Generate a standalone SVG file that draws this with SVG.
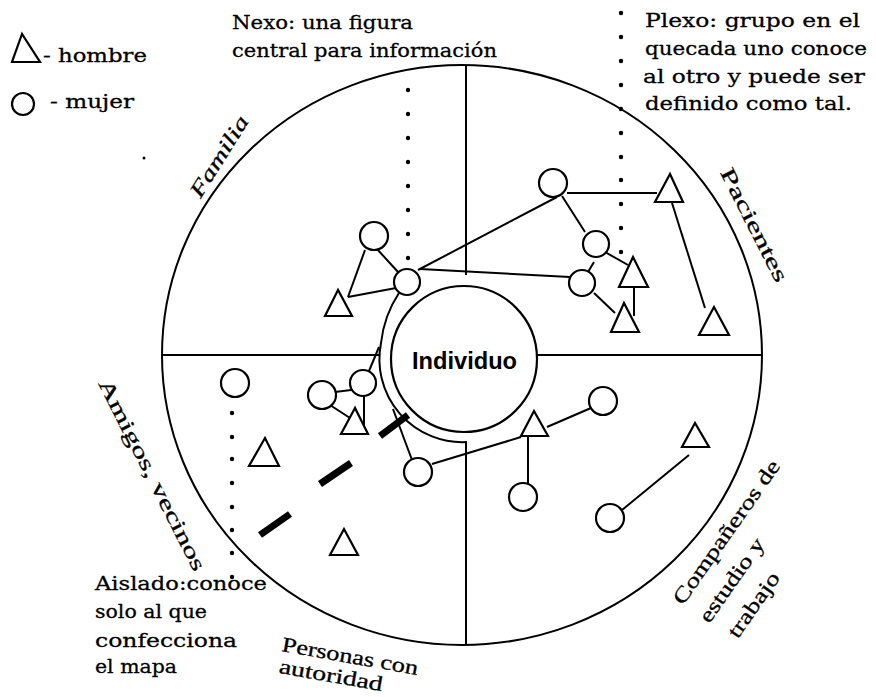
<svg xmlns="http://www.w3.org/2000/svg" width="876" height="697" viewBox="0 0 876 697">
<style>
.t{font-family:"DejaVu Serif","Liberation Serif",serif;font-size:19px;fill:#000;stroke:#000;stroke-width:0.3}
.r{font-family:"Liberation Serif","DejaVu Serif",serif;font-size:21px;fill:#000;stroke:#000;stroke-width:0.3}
.n{fill:#fff;stroke:#000;stroke-width:2.2}
.e{fill:none;stroke:#000;stroke-width:2}
.d{fill:#000}
.dash{stroke:#000;stroke-width:7;stroke-linecap:butt}
</style>
<rect width="876" height="697" fill="#fff"/>

<g id="frame">
<ellipse cx="462" cy="355" rx="300" ry="290" class="e"/>
<line x1="162" y1="355" x2="379" y2="355" class="e"/>
<line x1="537" y1="355" x2="762" y2="355" class="e"/>
<line x1="466" y1="65" x2="466" y2="275" class="e"/>
<line x1="466" y1="442" x2="466" y2="645" class="e"/>
</g>

<g id="dots">
<g class="d">
<circle cx="408" cy="90" r="2.2"/><circle cx="408" cy="114" r="2.2"/><circle cx="408" cy="138" r="2.2"/><circle cx="408" cy="162" r="2.2"/><circle cx="408" cy="186" r="2.2"/><circle cx="408" cy="210" r="2.2"/><circle cx="408" cy="234" r="2.2"/><circle cx="408" cy="258" r="2.2"/>
<circle cx="621" cy="13" r="2.2"/><circle cx="621" cy="37" r="2.2"/><circle cx="621" cy="61" r="2.2"/><circle cx="621" cy="85" r="2.2"/><circle cx="621" cy="109" r="2.2"/><circle cx="621" cy="133" r="2.2"/><circle cx="621" cy="157" r="2.2"/><circle cx="621" cy="180" r="2.2"/><circle cx="621" cy="204" r="2.2"/><circle cx="621" cy="228" r="2.2"/><circle cx="621" cy="252" r="2.2"/>
<circle cx="232" cy="413" r="2.2"/><circle cx="232" cy="437" r="2.2"/><circle cx="232" cy="459" r="2.2"/><circle cx="232" cy="483" r="2.2"/><circle cx="232" cy="507" r="2.2"/><circle cx="232" cy="530" r="2.2"/><circle cx="232" cy="553" r="2.2"/><circle cx="232" cy="577" r="2.2"/>
<circle cx="144" cy="158" r="1.5"/>
</g>
</g>

<g id="connectors">
<path d="M399 293 C389 308 383 325 381 343 A83 83 0 0 0 467 442" class="e"/>
<line x1="377" y1="249" x2="398" y2="272" class="e"/>
<line x1="365" y1="250" x2="348" y2="297" class="e"/>
<line x1="348" y1="297" x2="396" y2="288" class="e"/>
<line x1="418" y1="270" x2="557" y2="197" class="e"/>
<line x1="420" y1="269" x2="570" y2="277" class="e"/>
<line x1="567" y1="193" x2="657" y2="193" class="e"/>
<line x1="562" y1="196" x2="585" y2="232" class="e"/>
<line x1="605" y1="252" x2="628" y2="265" class="e"/>
<line x1="594" y1="262" x2="588" y2="272" class="e"/>
<line x1="594" y1="293" x2="615" y2="313" class="e"/>
<line x1="634" y1="287" x2="634" y2="316" class="e"/>
<line x1="672" y1="203" x2="705" y2="308" class="e"/>
<line x1="335" y1="392" x2="351" y2="390" class="e"/>
<line x1="330" y1="405" x2="350" y2="418" class="e"/>
<line x1="364" y1="396" x2="364" y2="431" class="e"/>
<line x1="369" y1="371" x2="379" y2="347" class="e"/>
<line x1="412" y1="460" x2="393" y2="409" class="e"/>
<line x1="432" y1="464" x2="521" y2="437" class="e"/>
<line x1="547" y1="427" x2="591" y2="408" class="e"/>
<line x1="528" y1="437" x2="528" y2="484" class="e"/>
<line x1="689" y1="455" x2="622" y2="510" class="e"/>
<line x1="260" y1="535" x2="290" y2="514" class="dash"/>
<line x1="320" y1="484" x2="351" y2="463" class="dash"/>
<line x1="380" y1="436" x2="408" y2="415" class="dash"/>
</g>

<g id="individuo">
<circle cx="464" cy="359" r="73" class="n"/>
<text x="464.5" y="369" text-anchor="middle" font-family="'Liberation Sans',Arial,sans-serif" font-weight="bold" font-size="24" textLength="105" lengthAdjust="spacingAndGlyphs">Individuo</text>
</g>

<g id="nodeA"><circle cx="374" cy="236" r="14" class="n"/></g>
<g id="nodeB"><circle cx="407" cy="282" r="13" class="n"/></g>
<g id="nodeC"><polygon points="338,290 325,316 352,316" class="n"/></g>
<g id="nodeE"><circle cx="553" cy="183" r="14" class="n"/></g>
<g id="nodeF"><polygon points="670,174 655,202 683,202" class="n"/></g>
<g id="nodeG"><circle cx="596" cy="244" r="13" class="n"/></g>
<g id="nodeD"><circle cx="582" cy="283" r="13" class="n"/></g>
<g id="nodeH"><polygon points="633,257 619,287 648,287" class="n"/></g>
<g id="nodeI"><polygon points="624,303 611,332 639,332" class="n"/></g>
<g id="nodeJ"><polygon points="714,307 699,335 729,335" class="n"/></g>
<g id="nodeK"><circle cx="235" cy="383" r="14" class="n"/></g>
<g id="nodeL"><polygon points="265,438 249,466 279,466" class="n"/></g>
<g id="nodeM"><circle cx="322" cy="395" r="14" class="n"/></g>
<g id="nodeN"><circle cx="363" cy="383" r="13" class="n"/></g>
<g id="nodeO"><polygon points="355,408 341,434 368,434" class="n"/></g>
<g id="nodeP"><circle cx="418" cy="472" r="14" class="n"/></g>
<g id="nodeQ"><polygon points="344,529 330,555 358,555" class="n"/></g>
<g id="nodeR"><polygon points="534,411 521,436 548,436" class="n"/></g>
<g id="nodeS"><circle cx="603" cy="401" r="14" class="n"/></g>
<g id="nodeT"><circle cx="523" cy="497" r="14" class="n"/></g>
<g id="nodeU"><polygon points="695,423 682,447 709,447" class="n"/></g>
<g id="nodeV"><circle cx="610" cy="518" r="14" class="n"/></g>

<g id="legend">
<polygon points="22,34 12,62 40,62" class="n" stroke-width="1.8"/>
<text class="t" x="43" y="62" textLength="104" lengthAdjust="spacingAndGlyphs">- hombre</text>
<circle cx="23" cy="104" r="11" class="n" stroke-width="1.8"/>
<text class="t" x="50" y="108" textLength="84" lengthAdjust="spacingAndGlyphs">- mujer</text>
</g>

<g id="notes">
<text class="t" x="232" y="29" textLength="181" lengthAdjust="spacingAndGlyphs">Nexo: una figura</text>
<text class="t" x="232" y="57" textLength="265" lengthAdjust="spacingAndGlyphs">central para información</text>
<text class="t" x="645" y="27" textLength="215" lengthAdjust="spacingAndGlyphs">Plexo: grupo en el</text>
<text class="t" x="645" y="55" textLength="222" lengthAdjust="spacingAndGlyphs">quecada uno conoce</text>
<text class="t" x="643" y="83" textLength="222" lengthAdjust="spacingAndGlyphs">al otro y puede ser</text>
<text class="t" x="645" y="110" textLength="207" lengthAdjust="spacingAndGlyphs">definido como tal.</text>
<text class="t" x="95" y="590" textLength="172" lengthAdjust="spacingAndGlyphs">Aislado:conoce</text>
<text class="t" x="95" y="618" textLength="112" lengthAdjust="spacingAndGlyphs">solo al que</text>
<text class="t" x="95" y="647" textLength="142" lengthAdjust="spacingAndGlyphs">confecciona</text>
<text class="t" x="95" y="673" textLength="82" lengthAdjust="spacingAndGlyphs">el mapa</text>
</g>

<g id="sectors">
<text class="r" font-style="italic" font-size="22" text-anchor="middle" transform="translate(225,160) rotate(-58)" textLength="92" lengthAdjust="spacingAndGlyphs">Familia</text>
<text class="r" text-anchor="middle" transform="translate(748,228) rotate(63)" textLength="125" lengthAdjust="spacingAndGlyphs">Pacientes</text>
<text class="r" text-anchor="middle" transform="translate(146,478) rotate(63)" textLength="212" lengthAdjust="spacingAndGlyphs">Amigos, vecinos</text>
<g transform="translate(281,651) rotate(10)">
<text class="r" x="0" y="0" textLength="138" lengthAdjust="spacingAndGlyphs">Personas con</text>
<text class="r" x="1" y="22" textLength="105" lengthAdjust="spacingAndGlyphs">autoridad</text>
</g>
<g transform="translate(683,606) rotate(-55)">
<text class="r" x="0" y="0" font-size="23" textLength="171" lengthAdjust="spacingAndGlyphs">Compañeros de</text>
<text class="r" x="0" y="32" font-size="23" textLength="98" lengthAdjust="spacingAndGlyphs">estudio y</text>
<text class="r" x="4" y="64" font-size="23" textLength="75" lengthAdjust="spacingAndGlyphs">trabajo</text>
</g>
</g>
</svg>
